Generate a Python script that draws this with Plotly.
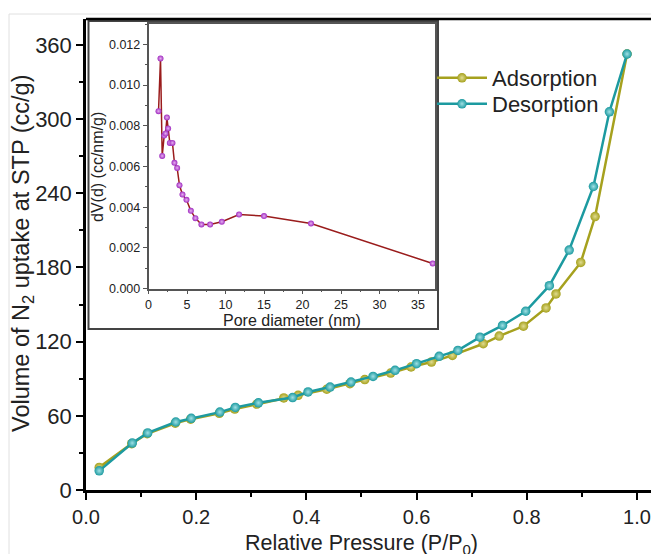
import plotly.graph_objects as go

# Main isotherm data
ads_p = [0.024, 0.083, 0.111, 0.162, 0.190, 0.242, 0.270, 0.310, 0.359, 0.385,
         0.437, 0.479, 0.506, 0.553, 0.590, 0.627, 0.665, 0.721, 0.750, 0.794,
         0.835, 0.853, 0.898, 0.924, 0.982]
ads_v = [18.3, 37.5, 45.5, 54.0, 57.3, 62.0, 65.5, 69.5, 74.5, 76.6,
         81.5, 86.0, 89.3, 94.6, 99.5, 103.5, 108.9, 118.3, 124.5, 132.5,
         147.3, 158.6, 184.1, 221.2, 352.7]

des_p = [0.982, 0.950, 0.921, 0.877, 0.841, 0.798, 0.756, 0.715, 0.675, 0.641,
         0.600, 0.561, 0.521, 0.481, 0.443, 0.403, 0.375, 0.313, 0.271, 0.243,
         0.191, 0.163, 0.112, 0.084, 0.024]
des_v = [352.7, 305.9, 245.5, 194.1, 165.3, 144.6, 133.1, 123.6, 112.9, 108.1,
         102.2, 96.8, 91.9, 87.3, 83.3, 79.3, 74.8, 70.5, 66.8, 63.0,
         58.0, 55.0, 46.2, 38.0, 15.5]

# Inset pore size distribution
pore_d = [1.30, 1.56, 1.78, 2.04, 2.22, 2.39, 2.55, 2.77, 3.11, 3.37, 3.72,
          4.02, 4.41, 4.93, 5.50, 6.09, 6.87, 8.0, 9.52, 11.76, 15.0, 21.1, 36.9]
pore_dv = [0.00872, 0.01131, 0.00652, 0.00752, 0.00762, 0.00841, 0.00787, 0.00716,
           0.00716, 0.00618, 0.00593, 0.00508, 0.00462, 0.00436, 0.00382, 0.00346,
           0.00315, 0.00315, 0.00328, 0.00364, 0.00356, 0.00320, 0.00123]

# The page body has an 8px default margin; compensate so the figure fills the window.
OFF = 8
W, H = 659 - OFF, 554 - OFF
L, R, T, B = 86, 659, 19, 490   # plot area in window pixels
PW, PH = R - L, B - T


def px(x):
    return (x - L) / PW


def py(y):
    return (B - y) / PH


FONT = "Liberation Sans, Arial, sans-serif"
TXT = "#222222"
OLIVE = "#a6a11e"
TEAL = "#1c9aa0"

fig = go.Figure()

fig.add_trace(go.Scatter(
    x=ads_p, y=ads_v, name="Adsorption", mode="lines+markers", legend="legend",
    line=dict(color=OLIVE, width=2.5),
    marker=dict(size=9.5, color=OLIVE, gradient=dict(type="radial", color="#e0dc90")),
    xaxis="x", yaxis="y"))
fig.add_trace(go.Scatter(
    x=des_p, y=des_v, name="Desorption", mode="lines+markers", legend="legend2",
    line=dict(color=TEAL, width=2.5),
    marker=dict(size=9.5, color=TEAL, gradient=dict(type="radial", color="#a0e0e4")),
    xaxis="x", yaxis="y"))

fig.add_trace(go.Scatter(
    x=pore_d, y=pore_dv, mode="lines+markers", showlegend=False,
    line=dict(color="#9a1c1c", width=1.5),
    marker=dict(size=6, color="#a02cc0", gradient=dict(type="radial", color="#e6b0f0")),
    xaxis="x2", yaxis="y2"))

# inset box
fig.add_shape(type="rect", xref="paper", yref="paper",
              x0=px(88.5), x1=px(438), y0=py(329), y1=py(21),
              line=dict(color="#444444", width=2), fillcolor="rgba(255,255,255,0)",
              layer="below")
# top frame line of main plot
fig.add_shape(type="line", xref="paper", yref="paper",
              x0=0, x1=1.0, y0=1, y1=1, line=dict(color="black", width=2.5))
# faint outer screenshot frame
fig.add_shape(type="line", xref="paper", yref="paper",
              x0=px(9), x1=px(9), y0=py(554), y1=py(14), line=dict(color="#e0e0e0", width=1))
fig.add_shape(type="line", xref="paper", yref="paper",
              x0=px(9), x1=1.0, y0=py(14), y1=py(14), line=dict(color="#e0e0e0", width=1))

ix0, ix1 = px(148.5), px(435)
iy0, iy1 = py(288.5), py(23.5)

leg_common = dict(x=px(432), xanchor="left", yanchor="middle",
                  bgcolor="rgba(0,0,0,0)", font=dict(size=22, family=FONT, color=TXT),
                  itemwidth=50)

fig.update_layout(
    width=W, height=H,
    margin=dict(l=L - OFF, r=W - (R - OFF), t=T - OFF, b=H - (B - OFF)),
    paper_bgcolor="white", plot_bgcolor="white",
    font=dict(family=FONT, color=TXT),
    showlegend=True,
    legend=dict(y=py(78), **leg_common),
    legend2=dict(y=py(104), **leg_common),
    xaxis=dict(domain=[0, 1], range=[0, 1.04], showgrid=False, zeroline=False,
               showline=True, linecolor="black", linewidth=2.5,
               ticks="outside", ticklen=7, tickwidth=2, tickcolor="black",
               dtick=0.2, tick0=0, tickformat=".1f",
               tickfont=dict(size=20, family=FONT, color=TXT),
               minor=dict(ticks="outside", ticklen=4, tickwidth=2, tickcolor="black", dtick=0.1)),
    yaxis=dict(domain=[0, 1], range=[0, 381], showgrid=False, zeroline=False,
               showline=True, linecolor="black", linewidth=2.5,
               ticks="outside", ticklen=7, tickwidth=2, tickcolor="black",
               dtick=60, tick0=0,
               tickfont=dict(size=22, family=FONT, color=TXT),
               minor=dict(ticks="outside", ticklen=4, tickwidth=2, tickcolor="black", dtick=30)),
    xaxis2=dict(domain=[ix0, ix1], anchor="y2", range=[0, 37.2], showgrid=False,
                zeroline=False, showline=True, linecolor="#555555", linewidth=1.5,
                mirror=True, ticks="outside", ticklen=4, tickcolor="#555555",
                dtick=5, tick0=0, tickfont=dict(size=12.5, family=FONT, color=TXT),
                minor=dict(ticks="outside", ticklen=2, tickcolor="#555555", dtick=2.5)),
    yaxis2=dict(domain=[iy0, iy1], anchor="x2", range=[0, 0.01303], showgrid=False,
                zeroline=False, showline=True, linecolor="#555555", linewidth=1.5,
                mirror=True, ticks="outside", ticklen=4, tickcolor="#555555",
                dtick=0.002, tick0=0, tickformat=".3f",
                tickfont=dict(size=12.5, family=FONT, color=TXT),
                minor=dict(ticks="outside", ticklen=2, tickcolor="#555555", dtick=0.001)),
)

fig.add_annotation(text="Relative Pressure (P/P<sub>0</sub>)", xref="x", yref="paper",
                   x=0.5, y=py(529), xanchor="center", yanchor="top", showarrow=False,
                   font=dict(size=21.5, family=FONT, color=TXT))
fig.add_annotation(text="Volume of N<sub>2</sub> uptake at STP (cc/g)", xref="paper", yref="paper",
                   x=px(22), y=py(254), xanchor="center", yanchor="middle", textangle=-90,
                   showarrow=False, font=dict(size=23.5, family=FONT, color=TXT))
fig.add_annotation(text="Pore diameter (nm)", xref="paper", yref="paper",
                   x=(ix0 + ix1) / 2, y=py(310), xanchor="center", yanchor="top",
                   showarrow=False, font=dict(size=16, family=FONT, color=TXT))
fig.add_annotation(text="dV(d) (cc/nm/g)", xref="paper", yref="paper",
                   x=px(97), y=py(167), xanchor="center", yanchor="middle", textangle=-90,
                   showarrow=False, font=dict(size=16, family=FONT, color=TXT))

fig.write_html("out.html")
